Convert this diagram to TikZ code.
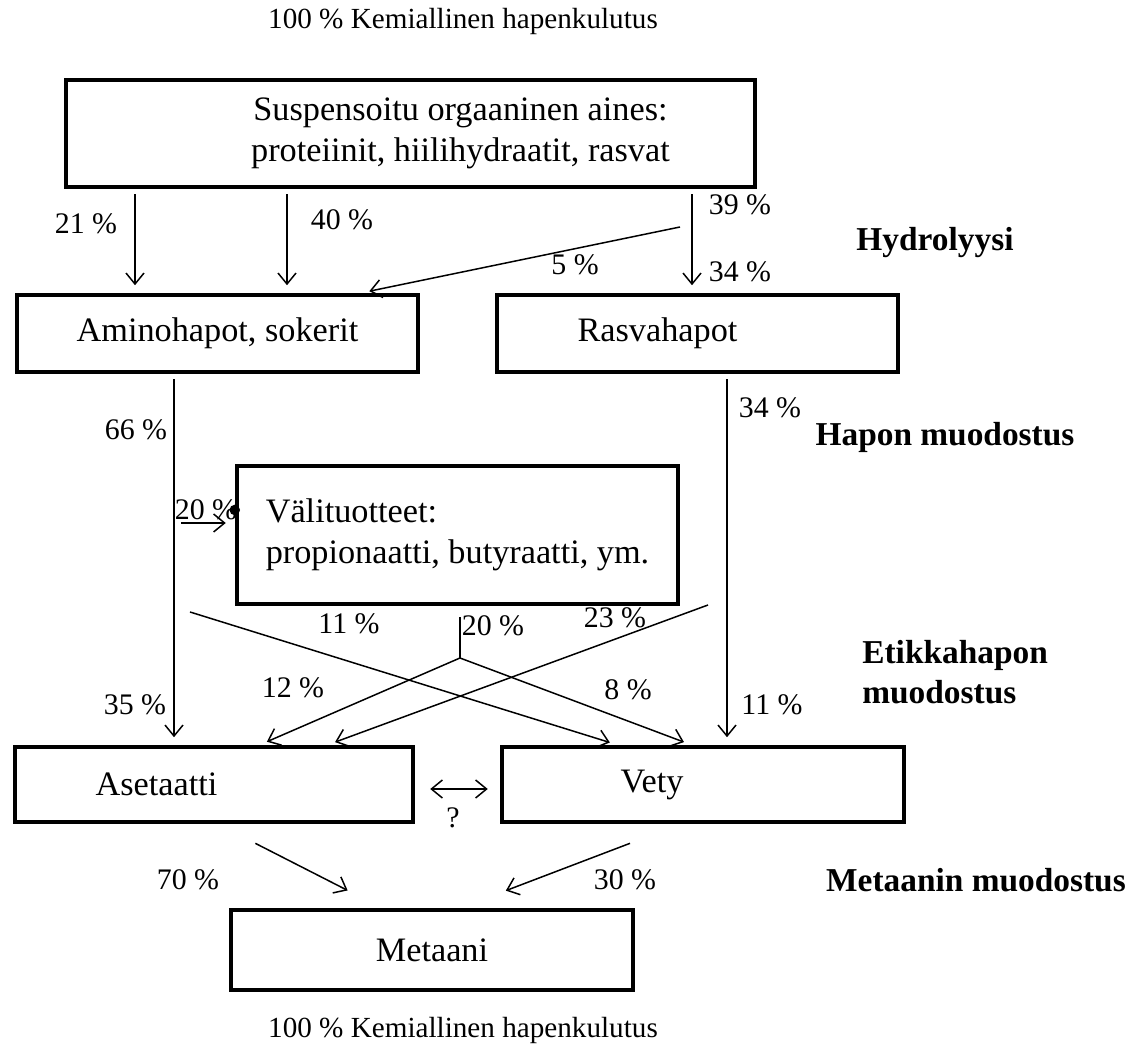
\documentclass[tikz,border=0pt]{standalone}
\usepackage{fontspec}
\setmainfont{Liberation Serif}
\usetikzlibrary{arrows.meta}
\newcommand{\boxfont}{\fontsize{19.5}{23.5}\selectfont}
\newcommand{\pctfont}{\fontsize{17}{20}\selectfont}
\newcommand{\stagefont}{\fontsize{19}{23}\selectfont\bfseries}
\newcommand{\codfont}{\fontsize{16.6}{20}\selectfont}
\tikzset{
  flow/.style={draw=black, line width=0.85pt},
  flow-box/.style={draw=black, line width=2.6pt, inner sep=0pt, font=\boxfont},
  flow-arrow/.style={flow, -{Straight Barb[length=0.22cm,width=0.36cm]}},
  flow-both/.style={flow, {Straight Barb[length=0.22cm,width=0.36cm]}-{Straight Barb[length=0.22cm,width=0.36cm]}},
  box-gap/.style={shorten <=0.1cm, shorten >=0.15cm},
  pct/.style={font=\pctfont, inner sep=0pt},
  stage/.style={font=\stagefont, inner sep=0pt, align=left},
  cod/.style={font=\codfont, inner sep=0pt},
  node-dot/.style={circle, fill=black, minimum size=6pt, inner sep=0pt}
}

\begin{document}
\begin{tikzpicture}[x=0.02cm,y=-0.02cm]
  \useasboundingbox (0,0) rectangle (1134,1053);

  % COD in and out
  \node[cod] (cod-in) at (463,21) {100 \% Kemiallinen hapenkulutus};
  \node[cod] (cod-out) at (463,1030) {100 \% Kemiallinen hapenkulutus};

  % Boxes
  \node[flow-box, minimum width=13.78cm, minimum height=2.14cm, align=center] (organic) at (410.5,133.5)
    {\hspace*{2cm}Suspensoitu orgaaninen aines:\\\hspace*{2cm}proteiinit, hiilihydraatit, rasvat};
  \node[flow-box, minimum width=8.02cm, minimum height=1.54cm] (amino) at (217.5,333.5) {Aminohapot, sokerit};
  \node[flow-box, minimum width=8.02cm, minimum height=1.54cm] (fatty) at (697.5,333.5) {Rasvahapot\hspace*{1.6cm}};
  \node[flow-box, minimum width=8.82cm, minimum height=2.76cm, align=left] (inter) at (457.5,535)
    {Välituotteet:\\propionaatti, butyraatti, ym.};
  \node[flow-box, minimum width=7.96cm, minimum height=1.5cm] (acetate) at (214,784.5) {Asetaatti\hspace*{2.3cm}};
  \node[flow-box, minimum width=8.04cm, minimum height=1.5cm] (hydrogen) at (703,784.5) {Vety\hspace*{2.04cm}};
  \node[flow-box, minimum width=8.04cm, minimum height=1.6cm] (methane) at (432,950) {Metaani};

  % Stages
  \node[stage] (st-hydro) at (935,243) {Hydrolyysi};
  \node[stage] (st-acid) at (945,437) {Hapon muodostus};
  \node[stage, anchor=west] (st-acetic) at (862,672) {Etikkahapon\\muodostus};
  \node[stage] (st-methane) at (976,880) {Metaanin muodostus};

  % Hydrolyysi
  \draw[flow-arrow, box-gap] (organic.south -| 135,0) -- (amino.north -| 135,0);
  \draw[flow-arrow, box-gap] (organic.south -| 287,0) -- (amino.north -| 287,0);
  \draw[flow-arrow, box-gap] (organic.south -| 692,0) -- (fatty.north -| 692,0);
  \coordinate (fork5) at (680,227);
  \draw[flow-arrow, shorten >=0.15cm] (fork5) -- (amino.north -| 362,0);
  \node[pct] (p21) at (86,224) {21 \%};
  \node[pct] (p40) at (342,220) {40 \%};
  \node[pct] (p39) at (740,205) {39 \%};
  \node[pct] (p34a) at (740,272) {34 \%};
  \node[pct] (p5) at (575,265) {5 \%};

  % Hapon muodostus
  \draw[flow-arrow, box-gap] (amino.south -| 174,0) -- (acetate.north -| 174,0);
  \draw[flow-arrow, box-gap] (fatty.south -| 727,0) -- (hydrogen.north -| 727,0);
  \coordinate (in20) at (181,523);
  \draw[flow-arrow, shorten >=0.18cm] (in20) -- (inter.west |- in20);
  \node[node-dot] (dot20) at (inter.west |- 0,510) {};
  \node[pct] (p66) at (136,430) {66 \%};
  \node[pct] (p34b) at (770,408) {34 \%};
  \node[pct] (p20a) at (206,510) {20 \%};

  % Etikkahapon muodostus
  \coordinate (fork11) at (190,612);
  \coordinate (fork23) at (708,605);
  \coordinate (fork20) at (460,658);
  \draw[flow-arrow, shorten >=0.15cm] (fork11) -- (hydrogen.north -| 617,0);
  \draw[flow-arrow, shorten >=0.15cm] (fork23) -- (acetate.north -| 328,0);
  \draw[flow, shorten <=0.22cm] (inter.south -| fork20) -- (fork20);
  \draw[flow-arrow, shorten >=0.15cm] (fork20) -- (acetate.north -| 260,0);
  \draw[flow-arrow, shorten >=0.15cm] (fork20) -- (hydrogen.north -| 691,0);
  \node[pct] (p11a) at (349,624) {11 \%};
  \node[pct] (p20b) at (493,626) {20 \%};
  \node[pct] (p23) at (615,618) {23 \%};
  \node[pct] (p12) at (293,688) {12 \%};
  \node[pct] (p8) at (628,690) {8 \%};
  \node[pct] (p35) at (135,705) {35 \%};
  \node[pct] (p11b) at (772,705) {11 \%};

  % Metaanin muodostus
  \draw[flow-both, shorten <=0.3cm, shorten >=0.24cm] (acetate.east |- 0,789) -- (hydrogen.west |- 0,789);
  \node[pct] (p-q) at (453,818) {?};
  \draw[flow-arrow, shorten <=0.84cm, shorten >=0.76cm] (acetate.south -| 218,0) -- (methane.north -| 381.5,0);
  \draw[flow-arrow, shorten <=1.07cm, shorten >=0.96cm] (hydrogen.south -| 680,0) -- (methane.north -| 461,0);
  \node[pct] (p70) at (188,880) {70 \%};
  \node[pct] (p30) at (625,880) {30 \%};

\end{tikzpicture}
\end{document}
